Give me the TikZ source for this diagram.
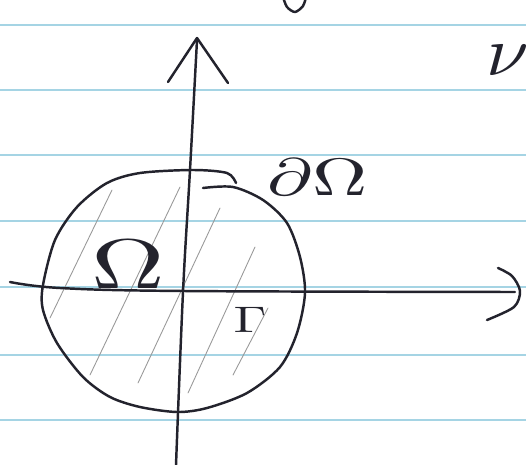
\documentclass[tikz,border=0pt]{standalone}
\definecolor{renglon}{RGB}{165,212,228}
\definecolor{tinta}{RGB}{35,35,45}
\begin{document}
\begin{tikzpicture}[x=0.02cm, y=-0.02cm,
  trazo/.style={draw=tinta, line width=1.4pt, line cap=round, line join=round},
  rayado/.style={draw=black!40, line width=0.5pt, line cap=round},
  renglones/.style={draw=renglon, line width=0.6pt},
  letra/.style={text=tinta, inner sep=0pt, transform shape}]
\useasboundingbox[fill=white] (0,0) rectangle (526,465);
\foreach \y in {25,90,155,221,287,355,420}
  \draw[renglones] (0,\y) -- (526,\y);
\draw[rayado] (112,190) -- (50,318);
\draw[rayado] (180,187) -- (90,375);
\draw[rayado] (220,208) -- (138,383);
\draw[rayado] (255,247) -- (188,393);
\draw[rayado] (268,308) -- (233,375);
\draw[trazo] plot[smooth, tension=0.6] coordinates {(197,40) (190,170) (183,292) (176,465)};
\draw[trazo] (168,82) -- (197,38) -- (228,83);
\draw[trazo] plot[smooth, tension=0.6] coordinates {(10,282) (60,288) (183,291) (515,292)};
\draw[trazo] plot[smooth] coordinates {(498,268) (512,276) (520,291) (514,307) (487,320)};
\draw[trazo] plot[smooth] coordinates {(203,188) (233,187) (263,200) (287,223) (300,257) (305,293)
  (297,333) (280,367) (247,393) (207,408) (177,412) (140,407) (110,397) (83,377) (57,343)
  (43,310) (43,285) (55,240) (77,207) (107,183) (140,173) (193,170) (227,173) (236,183)};
\draw[trazo] plot[smooth] coordinates {(283,-3) (287,7) (295,12) (303,6) (306,-3)};
\node[letra, xscale=4.35, yscale=3] (borde) at (318,177) {$\partial\Omega$};
\node[letra, xscale=5.8, yscale=4] (omega) at (128,264) {$\Omega$};
\node[letra, xscale=3, yscale=2.1] (gamma) at (250,320) {$\Gamma$};
\node[letra, xscale=4.35, yscale=4] (nu) at (508,60) {$\nu$};
\end{tikzpicture}
\end{document}
